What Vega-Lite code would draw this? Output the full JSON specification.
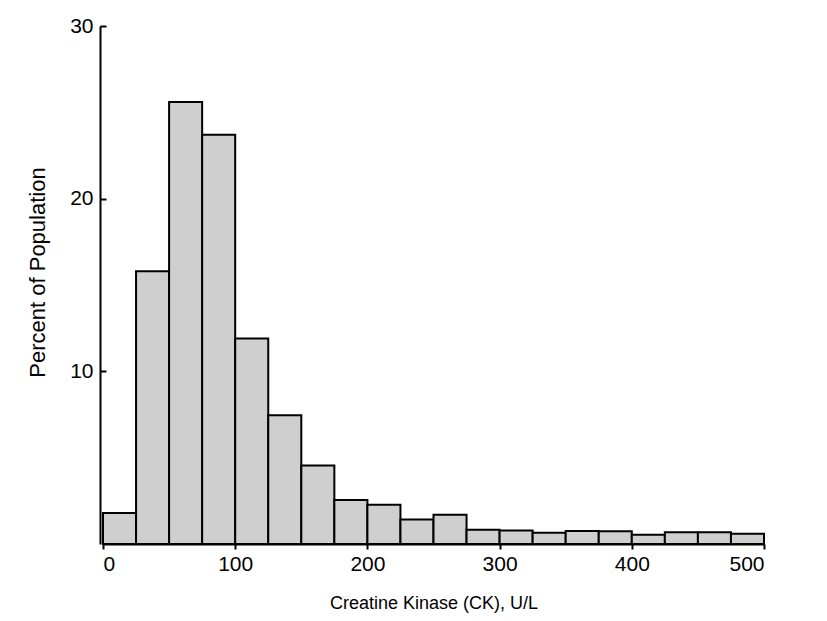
{
  "$schema": "https://vega.github.io/schema/vega-lite/v6.json",
  "autosize": {"type": "none"},
  "width": 661,
  "height": 518,
  "padding": {"left": 103, "top": 26, "right": 63, "bottom": 77},
  "background": "white",
  "config": {
    "view": {"stroke": null},
    "font": "Liberation Sans",
    "axis": {
      "grid": false,
      "domainColor": "black",
      "tickColor": "black",
      "labelColor": "black",
      "titleColor": "black",
      "labelFont": "Liberation Sans",
      "titleFont": "Liberation Sans",
      "titleFontWeight": "normal",
      "labelFontSize": 21,
      "titleFontSize": 18
    }
  },
  "data": {
    "values": [
      {"ck_from": 0, "ck_to": 25, "percent": 1.8},
      {"ck_from": 25, "ck_to": 50, "percent": 15.8},
      {"ck_from": 50, "ck_to": 75, "percent": 25.6},
      {"ck_from": 75, "ck_to": 100, "percent": 23.7},
      {"ck_from": 100, "ck_to": 125, "percent": 11.9},
      {"ck_from": 125, "ck_to": 150, "percent": 7.45},
      {"ck_from": 150, "ck_to": 175, "percent": 4.55},
      {"ck_from": 175, "ck_to": 200, "percent": 2.55},
      {"ck_from": 200, "ck_to": 225, "percent": 2.27},
      {"ck_from": 225, "ck_to": 250, "percent": 1.42},
      {"ck_from": 250, "ck_to": 275, "percent": 1.69},
      {"ck_from": 275, "ck_to": 300, "percent": 0.82},
      {"ck_from": 300, "ck_to": 325, "percent": 0.78},
      {"ck_from": 325, "ck_to": 350, "percent": 0.65},
      {"ck_from": 350, "ck_to": 375, "percent": 0.76},
      {"ck_from": 375, "ck_to": 400, "percent": 0.74},
      {"ck_from": 400, "ck_to": 425, "percent": 0.53},
      {"ck_from": 425, "ck_to": 450, "percent": 0.68},
      {"ck_from": 450, "ck_to": 475, "percent": 0.68},
      {"ck_from": 475, "ck_to": 500, "percent": 0.59}
    ]
  },
  "mark": {"type": "bar", "fill": "#cfcfcf", "stroke": "black", "strokeWidth": 2},
  "encoding": {
    "x": {
      "field": "ck_from",
      "type": "quantitative",
      "scale": {"domain": [0, 500], "nice": false},
      "axis": {
        "title": "Creatine Kinase (CK), U/L",
        "values": [0, 100, 200, 300, 400, 500],
        "tickSize": 5,
        "labelPadding": 4,
        "titlePadding": 20,
        "domainWidth": 2,
        "tickWidth": 2
      }
    },
    "x2": {"field": "ck_to"},
    "y": {
      "field": "percent",
      "type": "quantitative",
      "scale": {"domain": [0, 30], "nice": false},
      "axis": {
        "title": "Percent of Population",
        "titleFontSize": 22,
        "values": [10, 20, 30],
        "offset": 3,
        "tickSize": -6,
        "tickWidth": 2,
        "domainWidth": 2,
        "labelPadding": 13,
        "titleX": -51,
        "titleY": 246
      }
    },
    "y2": {"datum": 0}
  }
}
